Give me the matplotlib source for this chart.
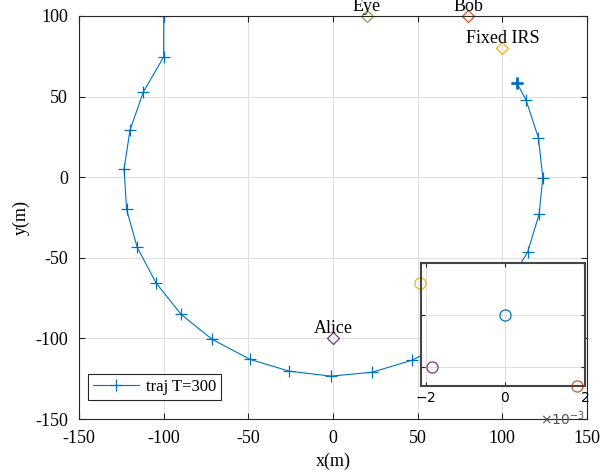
import matplotlib.pyplot as plt

plt.rcParams["axes.unicode_minus"] = False

# trajectory points (m)
traj_x = [108.5, 114.0, 121.3, 123.9, 121.7, 115.0, 102.8, 87.4, 68.6, 46.7, 23.0, -1.2,
          -26.0, -49.0, -71.5, -89.8, -104.5, -115.6, -121.9, -123.4, -119.9, -112.0, -100.0, -100.0]
traj_y = [58.7, 47.8, 24.4, -0.2, -23.0, -46.3, -67.5, -86.6, -102.1, -113.5, -121.0, -123.4,
          -120.3, -113.0, -100.5, -85.0, -65.6, -43.6, -20.0, 5.0, 29.2, 52.9, 74.6, 100.0]

# nodes
node_names = ["Eye", "Bob", "Fixed IRS", "Alice"]
node_x = [20, 80, 100, 0]
node_y = [100, 100, 80, -100]
node_colors = ["#77AC30", "#D95319", "#EDB120", "#7E2F8E"]

# inset circles (scaled 1e-3)
zoom_x = [0.0, -2.14e-3, 1.83e-3, -1.83e-3]
zoom_y = [0.0, 0.62e-3, -1.36e-3, -1.0e-3]
zoom_colors = ["#0072BD", "#EDB120", "#D95319", "#7E2F8E"]

serif = ["Liberation Serif", "DejaVu Serif"]
blue = "#0072BD"
edge = "#262626"

fig = plt.figure(figsize=(6.13, 4.76), dpi=100)
ax = fig.add_axes([0.1289, 0.1197, 0.8287, 0.8467])

ax.plot(traj_x, traj_y, color=blue, lw=0.8, marker="+", ms=8, mew=0.9, label="traj T=300")
ax.plot(traj_x[:1], traj_y[:1], color=blue, ls="none", marker="+", ms=9, mew=2)

for name, x, y, c in zip(node_names, node_x, node_y, node_colors):
    ax.plot(x, y, marker="D", ms=6, mfc="none", mec=c, mew=0.9, clip_on=False)
    ax.text(x, y + 6.0, name, ha="center", va="center", fontsize=13, family=serif)

ax.set_xlim(-150, 150)
ax.set_ylim(-150, 100)
ax.set_xticks(range(-150, 151, 50))
ax.set_yticks(range(-150, 101, 50))
ax.grid(True, color="#e0e0e0", lw=0.8)
ax.set_axisbelow(True)
ax.tick_params(direction="in", top=True, right=True, length=4, width=0.8, colors=edge, labelsize=13)
ax.tick_params(axis="x", pad=8)
ax.tick_params(axis="y", pad=8)
for lab in ax.get_xticklabels() + ax.get_yticklabels():
    lab.set_family(serif)
    lab.set_color("black")
for sp in ax.spines.values():
    sp.set_color(edge)
    sp.set_linewidth(0.8)
ax.set_xlabel("x(m)", fontsize=13, family=serif, labelpad=4)
ax.set_ylabel("y(m)", fontsize=13, family=serif, labelpad=4)

leg = ax.legend(loc="lower left", bbox_to_anchor=(0.017, 0.047), prop={"family": serif, "size": 12},
                fancybox=False, framealpha=1, borderaxespad=0, handlelength=2.8,
                handletextpad=0.4, borderpad=0.3)
leg.get_frame().set_edgecolor(edge)
leg.get_frame().set_linewidth(0.8)

# inset
ins = fig.add_axes([0.6863, 0.189, 0.268, 0.259])
for x, y, c in zip(zoom_x, zoom_y, zoom_colors):
    ins.plot(x, y, marker="o", ms=8, mfc="none", mec=c, mew=0.9, clip_on=False)
ins.set_xlim(-2.126e-3, 2.02e-3)
ins.set_ylim(-1.36e-3, 1.0e-3)
ins.set_xticks([-2e-3, 0, 2e-3])
ins.set_yticks([-1e-3, 0, 1e-3])
ins.set_yticklabels([])
ins.ticklabel_format(axis="x", style="sci", scilimits=(0, 0), useMathText=True)
ins.grid(True, color="#e0e0e0", lw=0.8)
ins.set_axisbelow(True)
ins.tick_params(direction="in", top=True, right=True, length=3, width=0.8, colors=edge,
                labelsize=10, labelcolor="black")
ins.xaxis.get_offset_text().set_fontsize(10)
ins.xaxis.get_offset_text().set_color("#555555")
for sp in ins.spines.values():
    sp.set_color("#444444")
    sp.set_linewidth(1.5)

fig.savefig("out.png", dpi=100)
